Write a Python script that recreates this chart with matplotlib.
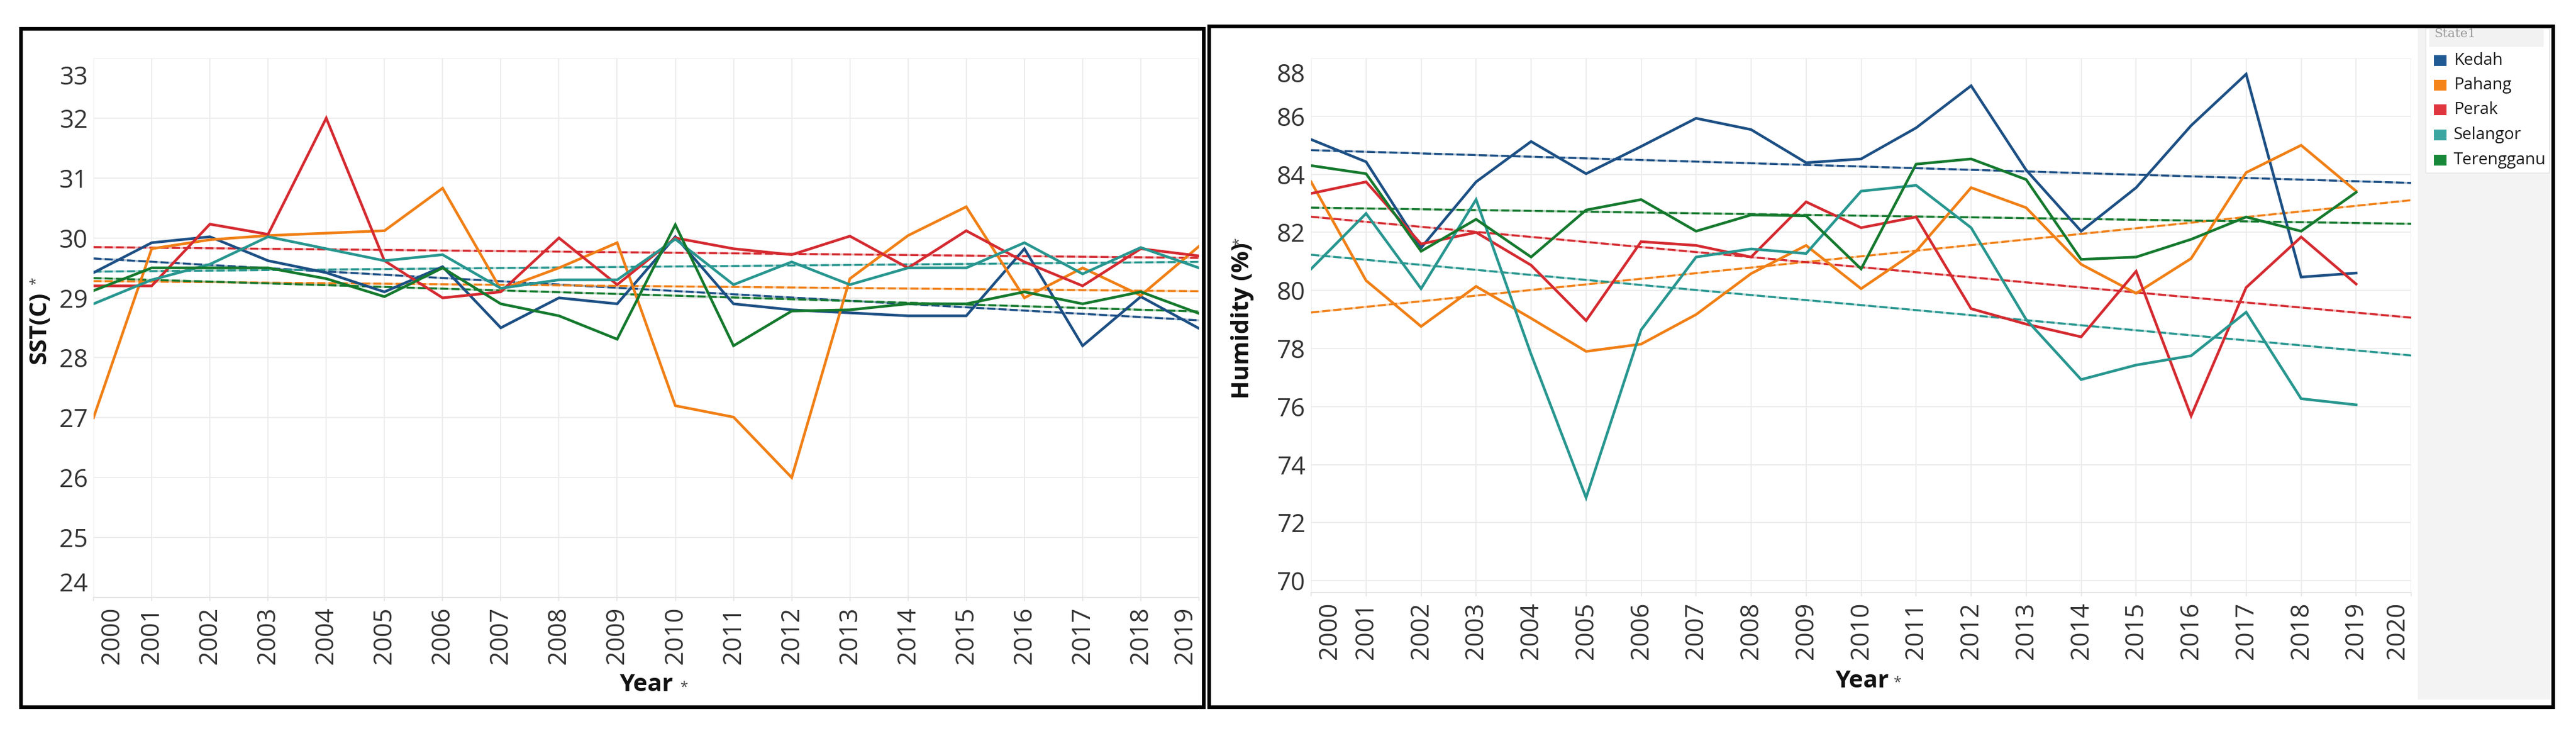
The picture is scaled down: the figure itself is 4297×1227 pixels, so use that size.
import numpy as np
import matplotlib
matplotlib.use('Agg')
import matplotlib.pyplot as plt
from matplotlib.patches import Rectangle
from matplotlib.transforms import ScaledTranslation

plt.rcParams['font.family'] = ['Open Sans', 'DejaVu Sans']

# ---------------- data ----------------
states = ['Kedah', 'Pahang', 'Perak', 'Selangor', 'Terengganu']
years = list(range(2000, 2020))
sst_ticks_x = list(range(2000, 2020))
hum_ticks_x = list(range(2000, 2021))
sst_ticks_y = list(range(24, 34))
hum_ticks_y = list(range(70, 89, 2))

sst_kedah = [29.42, 29.92, 30.02, 29.62, 29.42, 29.10, 29.52, 28.50, 29.00, 28.90,
             30.02, 28.90, 28.80, 28.75, 28.70, 28.70, 29.82, 28.20, 29.02, 28.49]
sst_pahang = [27.00, 29.82, 29.97, 30.04, 30.08, 30.12, 30.83, 29.14, 29.50, 29.92,
              27.20, 27.01, 26.00, 29.32, 30.04, 30.52, 29.00, 29.50, 29.04, 29.86]
sst_perak = [29.20, 29.20, 30.23, 30.06, 32.00, 29.62, 29.00, 29.10, 30.00, 29.22,
             30.00, 29.82, 29.72, 30.03, 29.50, 30.12, 29.60, 29.20, 29.82, 29.70]
sst_selangor = [28.90, 29.30, 29.56, 30.02, 29.82, 29.62, 29.72, 29.16, 29.30, 29.30,
                29.98, 29.22, 29.60, 29.22, 29.50, 29.50, 29.92, 29.40, 29.84, 29.50]
sst_terengganu = [29.12, 29.50, 29.50, 29.50, 29.32, 29.02, 29.50, 28.90, 28.70, 28.31,
                  30.22, 28.20, 28.78, 28.80, 28.90, 28.90, 29.10, 28.90, 29.10, 28.74]

hum_kedah = [85.20, 84.43, 81.47, 83.74, 85.13, 84.02, 84.96, 85.93, 85.54, 84.40,
             84.53, 85.60, 87.05, 84.15, 82.04, 83.54, 85.68, 87.45, 80.46, 80.60]
hum_pahang = [83.74, 80.34, 78.76, 80.14, 79.04, 77.90, 78.15, 79.17, 80.58, 81.55,
              80.06, 81.35, 83.54, 82.85, 80.90, 79.90, 81.10, 84.06, 85.00, 83.42]
hum_perak = [83.34, 83.74, 81.60, 82.00, 80.87, 78.96, 81.68, 81.55, 81.15, 83.05,
             82.16, 82.53, 79.37, 78.84, 78.40, 80.66, 75.68, 80.10, 81.84, 80.22]
hum_selangor = [80.74, 82.65, 80.06, 83.13, 77.80, 72.86, 78.64, 81.15, 81.43, 81.27,
                83.42, 83.62, 82.16, 79.00, 76.93, 77.43, 77.75, 79.25, 76.27, 76.06]
hum_terengganu = [84.30, 84.02, 81.35, 82.45, 81.15, 82.77, 83.13, 82.04, 82.60, 82.57,
                  80.74, 84.35, 84.53, 83.82, 81.07, 81.15, 81.76, 82.53, 82.04, 83.38]

sst_series = [sst_kedah, sst_pahang, sst_perak, sst_selangor, sst_terengganu]
hum_series = [hum_kedah, hum_pahang, hum_perak, hum_selangor, hum_terengganu]

line_colors = ['#1c4f84', '#f07f15', '#d42a30', '#27968f', '#14792d']
legend_colors = ['#1f5a93', '#f5851a', '#e0363f', '#3aa69f', '#17883a']

# ---------------- figure ----------------
W, H = 4297, 1227
fig = plt.figure(figsize=(W / 100, H / 100), dpi=100)


def ax_rect(x0, y0, x1, y1):
    return [x0 / W, 1 - y1 / H, (x1 - x0) / W, (y1 - y0) / H]


ax1 = fig.add_axes(ax_rect(156, 97, 2000, 996))
ax2 = fig.add_axes(ax_rect(2187, 97, 4022, 988))


def style_axis(ax, xt, yt, xlim, ylim):
    ax.set_xlim(*xlim)
    ax.set_ylim(*ylim)
    ax.set_xticks(xt)
    ax.set_xticklabels([str(v) for v in xt], rotation=90)
    ax.set_yticks(yt)
    ax.set_yticklabels([str(v) for v in yt])
    ax.grid(True, color='#ececec', lw=1.3)
    ax.set_axisbelow(True)
    for s in ['top', 'right', 'left']:
        ax.spines[s].set_visible(False)
    ax.spines['bottom'].set_color('#e2e2e2')
    ax.spines['bottom'].set_linewidth(1.3)
    ax.tick_params(axis='x', length=4.5, width=1.1, color='#e2e2e2',
                   labelsize=30, labelcolor='#333333', pad=7)
    ax.tick_params(axis='y', length=0, labelsize=30, labelcolor='#333333', pad=7)


def draw_series(ax, series, x_end):
    x = np.array(years, dtype=float)
    for vals, col in zip(series, line_colors):
        y = np.array(vals)
        k, b = np.polyfit(x, y, 1)
        xt = np.array([2000.0, x_end])
        ax.plot(xt, k * xt + b, color=col, lw=2.4, alpha=0.35, zorder=2)
        ax.plot(xt, k * xt + b, color=col, lw=2.4, dashes=(4.0, 1.6), zorder=2.1)
    for vals, col in zip(series, line_colors):
        ax.plot(x, vals, color=col, lw=3.2, zorder=3, solid_joinstyle='miter')


draw_series(ax1, sst_series, 2019.0)
draw_series(ax2, hum_series, 2020.0)
style_axis(ax1, sst_ticks_x, sst_ticks_y, (2000, 2019), (24, 33))
style_axis(ax2, hum_ticks_x, hum_ticks_y, (2000, 2020), (69.59, 88))


def shift(label, dx, dy):
    label.set_transform(label.get_transform() +
                        ScaledTranslation(dx / 100, -dy / 100, fig.dpi_scale_trans))


xt1 = ax1.xaxis.get_major_ticks()
shift(xt1[0].label1, 31, 0)
shift(xt1[-1].label1, -23, 0)
yt1 = ax1.yaxis.get_major_ticks()
shift(yt1[-1].label1, 0, 28)
shift(yt1[0].label1, 0, -26)
xt2 = ax2.xaxis.get_major_ticks()
shift(xt2[0].label1, 31, 0)
shift(xt2[-1].label1, -23, 0)
yt2 = ax2.yaxis.get_major_ticks()
shift(yt2[-1].label1, 0, 24)

# axis titles
lab_kw = dict(fontsize=29, fontweight='bold', color='#111111')
ax1.set_ylabel('SST(C)', **lab_kw)
ax1.yaxis.set_label_coords((66 - 156) / 1844, (996 - 547) / 899)
ax1.yaxis.label.set_va('center')
ax1.set_xlabel('Year', **lab_kw)
ax1.xaxis.set_label_coords(0.5, (996 - 1142) / 899)
ax1.xaxis.label.set_va('center')

ax2.set_ylabel('Humidity (%)', **lab_kw)
ax2.yaxis.set_label_coords((2073 - 2187) / 1835, (988 - 535) / 891)
ax2.yaxis.label.set_va('center')
ax2.set_xlabel('Year', **lab_kw)
ax2.xaxis.set_label_coords((3106 - 2187) / 1835, (988 - 1135) / 891)
ax2.xaxis.label.set_va('center')

# ---------------- overlay (frames, legend) ----------------
ov = fig.add_axes([0, 0, 1, 1])
ov.set_xlim(0, W)
ov.set_ylim(H, 0)
ov.axis('off')

star_kw = dict(fontsize=17, color='#444444', ha='center', va='center')
ov.text(60, 468, '*', rotation=90, **star_kw)
ov.text(2067, 402, '*', rotation=90, **star_kw)
ov.text(1141, 1146, '*', **star_kw)
ov.text(3165, 1138, '*', **star_kw)

# legend panel
ov.add_patch(Rectangle((4033, 47), 4254 - 4033, 1166 - 47, fc='#f3f3f3', ec='none', zorder=1))
box = Rectangle((4046, 47), 4252 - 4046, 288 - 47, fc='white', ec='#e4e4e4', lw=1, zorder=2)
ov.add_patch(box)
ov.add_patch(Rectangle((4052, 49), 4243 - 4052, 78 - 49, fc='#f2f2f2', ec='none', zorder=2.5))
t = ov.text(4060, 56, 'State1', fontsize=15, color='#9a9a9a', family='DejaVu Serif',
            va='center', ha='left', zorder=3)
t.set_clip_path(box)
centers = [101, 142, 183, 225, 267]
for name, col, cy in zip(states, legend_colors, centers):
    ov.add_patch(Rectangle((4060, cy - 9), 21, 18, fc=col, ec='none', zorder=3))
    tt = ov.text(4093, cy, name, fontsize=20, color='#1a1a1a', va='center', ha='left', zorder=3)
    tt.set_clip_path(box)

# panel frames
ov.add_patch(Rectangle((35, 48), 2008 - 35, 1179 - 48, fill=False, ec='black', lw=4.4, zorder=5))
ov.add_patch(Rectangle((2017, 44), 4259 - 2017, 1179 - 44, fill=False, ec='black', lw=4.4, zorder=5))

fig.savefig('out.png', dpi=100, facecolor='white')
